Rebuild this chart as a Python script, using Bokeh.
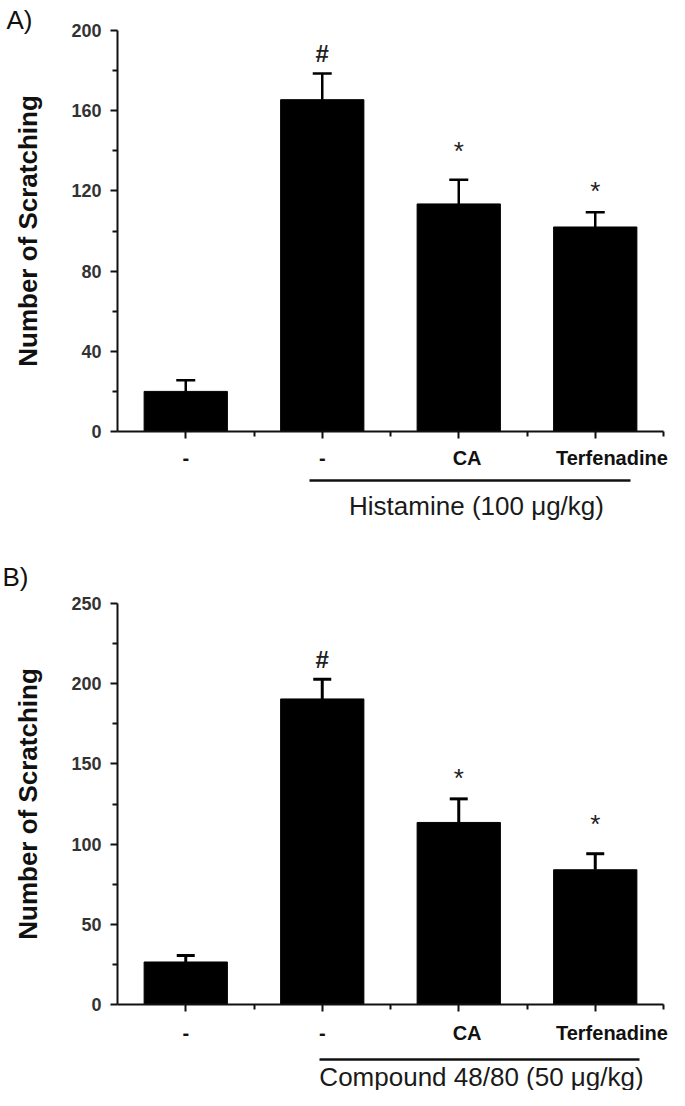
from bokeh.plotting import figure
from bokeh.models import (FixedTicker, Whisker, TeeHead, ColumnDataSource, Range1d,
                          LinearAxis)
from bokeh.layouts import column
from bokeh.embed import file_html
from bokeh.resources import INLINE
from bokeh.core.properties import value

# ---------------- data ----------------
positions = [1, 2, 3, 4]
treatment_labels = ["-", "-", "CA", "Terfenadine"]

a_mean = [20, 165.5, 113.5, 102]
a_err = [5.5, 13, 12, 7.3]
a_marks = ["", "#", "*", "*"]
a_mark_y = [0, 188.6, 139.8, 120]
a_yticks = [0, 40, 80, 120, 160, 200]
a_yminor = [20, 60, 100, 140, 180]
a_group = "Histamine (100 \u03bcg/kg)"

b_mean = [26.5, 190.5, 113.5, 84]
b_err = [4, 12.3, 14.7, 10]
b_marks = ["", "#", "*", "*"]
b_mark_y = [0, 215, 141, 112.7]
b_yticks = [0, 50, 100, 150, 200, 250]
b_yminor = [25, 75, 125, 175, 225]
b_group = "Compound 48/80 (50 \u03bcg/kg)"

FONT = "Liberation Sans"
FIG_W = 669
AX_LEFT = 117          # pixel x of the value axis inside each figure
AX_W = 546             # pixel length of the category axis
XMIN, XMAX = 0.5, 4.5
PX_PER_X = AX_W / (XMAX - XMIN)
AX_H = 401             # pixel length of the value axis


def make_panel(letter, letter_pos, mean, err, marks, mark_y, yticks, yminor, group,
               fig_h, ax_top, label_standoff, line_px, line_py, text_px, text_py,
               err_lw, cap):
    ymax = yticks[-1]
    ppu = AX_H / ymax
    x0 = XMIN - AX_LEFT / PX_PER_X
    x1 = XMIN + (FIG_W - AX_LEFT) / PX_PER_X
    ytop = ymax + ax_top / ppu
    ybot = -(fig_h - ax_top - AX_H) / ppu

    def px2x(px):
        return x0 + px / PX_PER_X

    def py2y(py):
        return ytop - py / ppu

    p = figure(frame_width=FIG_W, frame_height=fig_h,
               x_range=Range1d(x0, x1), y_range=Range1d(ybot, ytop),
               x_axis_location=None, y_axis_location=None, min_border=0,
               output_backend="svg", toolbar_location=None, tools="")
    p.outline_line_color = None
    p.grid.visible = False
    p.background_fill_color = "white"
    p.border_fill_color = "white"

    src = ColumnDataSource(dict(x=positions, top=mean,
                                upper=[m + e for m, e in zip(mean, err)]))
    p.vbar(x="x", top="top", width=0.61, source=src,
           fill_color="black", line_color="black")
    p.add_layout(Whisker(source=src, base="x", lower="top", upper="upper",
                         dimension="height", line_width=err_lw, line_color="black",
                         lower_head=None,
                         upper_head=TeeHead(size=cap, line_width=err_lw,
                                            line_color="black")))

    sel = [i for i, m in enumerate(marks) if m]
    msrc = ColumnDataSource(dict(
        x=[positions[i] for i in sel], y=[mark_y[i] for i in sel],
        t=[marks[i] for i in sel],
        size=["24px" if marks[i] == "#" else "26px" for i in sel],
        style=["bold" if marks[i] == "#" else "normal" for i in sel]))
    p.text(x="x", y="y", text="t", source=msrc, text_align="center",
           text_baseline="middle", text_font=value(FONT), text_font_size="size",
           text_font_style="style", text_color="#222222")

    yaxis = LinearAxis(fixed_location=XMIN, bounds=(0, ymax),
                       ticker=FixedTicker(ticks=yticks, minor_ticks=yminor))
    xaxis = LinearAxis(fixed_location=0, bounds=(XMIN, XMAX),
                       ticker=FixedTicker(ticks=positions,
                                          minor_ticks=[x + 0.5 for x in positions]))
    for ax in (xaxis, yaxis):
        ax.axis_line_width = 2
        ax.axis_line_color = "#111111"
        ax.major_tick_line_width = 2
        ax.minor_tick_line_width = 2
        ax.major_tick_line_color = "#111111"
        ax.minor_tick_line_color = "#111111"
        ax.major_tick_in = 0
        ax.minor_tick_in = 0
        ax.major_tick_out = 7
        ax.minor_tick_out = 5
    yaxis.major_label_text_font = FONT
    yaxis.major_label_text_font_style = "bold"
    yaxis.major_label_text_font_size = "18px"
    yaxis.major_label_text_color = "#333333"
    yaxis.major_label_standoff = 9
    yaxis.axis_label = "Number of Scratching"
    yaxis.axis_label_text_font = FONT
    yaxis.axis_label_text_font_style = "bold"
    yaxis.axis_label_text_font_size = "26px"
    yaxis.axis_label_text_color = "#111111"
    yaxis.axis_label_standoff = 25

    pad = [0, 0, 3, 6]  # labels sit slightly right of their ticks in the original
    xaxis.major_label_overrides = {x: "\u00a0" * n + t
                                   for x, t, n in zip(positions, treatment_labels, pad)}
    xaxis.major_label_text_font = FONT
    xaxis.major_label_text_font_style = "bold"
    xaxis.major_label_text_font_size = "20px"
    xaxis.major_label_text_color = "#111111"
    xaxis.major_label_standoff = label_standoff
    p.add_layout(yaxis, "left")
    p.add_layout(xaxis, "below")

    # group bracket and its label
    p.segment(x0=[px2x(line_px[0])], y0=[py2y(line_py)],
              x1=[px2x(line_px[1])], y1=[py2y(line_py)],
              line_width=2.5, line_color="#111111")
    p.text(x=[px2x(text_px)], y=[py2y(text_py)], text=[group], text_align="center",
           text_baseline="middle", text_font=value(FONT), text_font_size="26px",
           text_color="#1a1a1a")
    # panel letter
    p.text(x=[px2x(letter_pos[0])], y=[py2y(letter_pos[1])], text=[letter],
           text_align="left", text_baseline="top", text_font=value(FONT),
           text_font_size="26px", text_color="#111111")
    return p


pa = make_panel("A)", (6, 4), a_mean, a_err, a_marks, a_mark_y, a_yticks, a_yminor,
                a_group, fig_h=546, ax_top=30, label_standoff=8,
                line_px=(309, 630), line_py=480, text_px=476, text_py=505,
                err_lw=2.5, cap=19)
pb = make_panel("B)", (2, 15), b_mean, b_err, b_marks, b_mark_y, b_yticks, b_yminor,
                b_group, fig_h=544, ax_top=57, label_standoff=10,
                line_px=(319, 639), line_py=513, text_px=481, text_py=530,
                err_lw=3, cap=18)

layout = column(pa, pb, spacing=0)
open("out.html", "w").write(file_html(layout, INLINE))
